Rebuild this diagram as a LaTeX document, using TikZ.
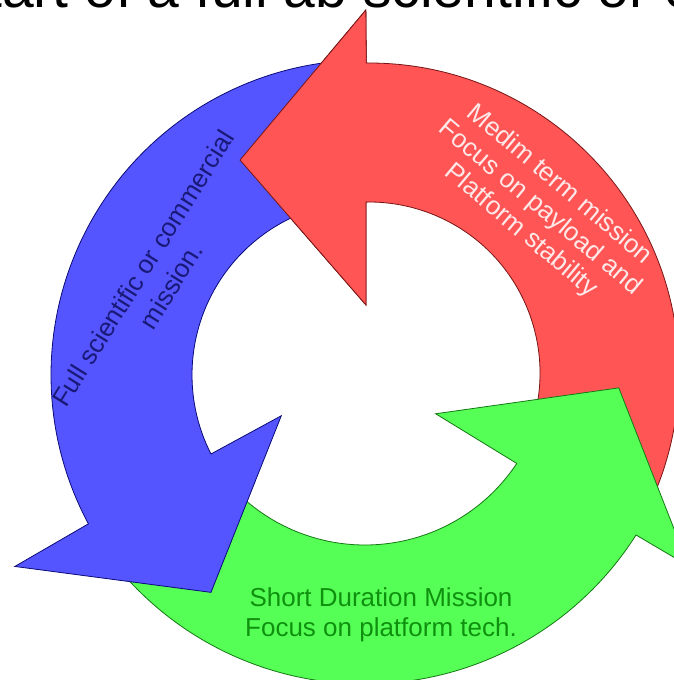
\documentclass[tikz,border=0pt]{standalone}
\usepackage{fontspec}
\setmainfont{Liberation Sans}
\usepackage{tikz}
\usetikzlibrary{positioning}

\definecolor{redfill}{RGB}{255,85,85}
\definecolor{redline}{RGB}{120,20,20}
\definecolor{redtext}{RGB}{255,232,232}
\definecolor{bluefill}{RGB}{85,85,255}
\definecolor{blueline}{RGB}{10,10,120}
\definecolor{bluetext}{RGB}{25,25,120}
\definecolor{greenfill}{RGB}{85,255,85}
\definecolor{greenline}{RGB}{20,120,20}
\definecolor{greentext}{RGB}{15,145,15}

\tikzset{
  redarrow/.style={fill=redfill,draw=redline,line width=0.8pt,line join=miter},
  bluearrow/.style={fill=bluefill,draw=blueline,line width=0.8pt,line join=miter},
  greenarrow/.style={fill=greenfill,draw=greenline,line width=0.8pt,line join=miter},
  cyclelabel/.style={align=center,inner sep=0pt,font=\fontsize{26}{30}\selectfont}
}

\newcommand{\redpath}{%
  \path[redarrow] (90.5:310) arc[start angle=90.5,end angle=-25,radius=310]
    -- (-25:171) arc[start angle=-25,end angle=91,radius=171]
    -- (92.5:68) -- (121.2:249) -- (90.5:363) -- cycle;}

\begin{document}
\begin{tikzpicture}[x=1pt,y=1pt]
\useasboundingbox (0,0) rectangle (674,680);
\clip (0,0) rectangle (674,680);

\node[anchor=base west,inner sep=0pt,font=\fontsize{57}{68}\selectfont] (title) at (-52,672.5) {Start of a full ab scientific or co};

\begin{scope}[shift={(369,307)}]
\redpath
\end{scope}

\begin{scope}[shift={(365,317)}]
\path[greenarrow] (-32.4:321) arc[start angle=-32.4,end angle=-145,radius=321]
  -- (-145:182) arc[start angle=-145,end angle=-33.5,radius=182]
  -- (-35.7:87) -- (-5.6:255) -- (-32.1:382) -- cycle;
\end{scope}

\begin{scope}[shift={(366,305)}]
\path[bluearrow] (95:315) arc[start angle=95,end angle=208.2,radius=315]
  -- (208.6:400) -- (234.5:267) -- (205.7:94)
  -- (207:174) arc[start angle=207,end angle=95,radius=174] -- cycle;
\end{scope}

% red head goes over the blue tail
\begin{scope}
\clip (0,340) rectangle (367.5,680);
\begin{scope}[shift={(369,307)}]
\redpath
\end{scope}
\end{scope}

\node[cyclelabel,text=redtext,rotate=-40] (medium) at (540,472) {Medim term mission\\Focus on payload and\\Platform stability};
\node[cyclelabel,text=bluetext,rotate=58,font=\fontsize{26}{33}\selectfont] (full) at (157,403) {Full scientific or commercial\\mission.};
\node[cyclelabel,text=greentext] (short) at (381,65) {Short Duration Mission\\Focus on platform tech.};
\end{tikzpicture}
\end{document}
